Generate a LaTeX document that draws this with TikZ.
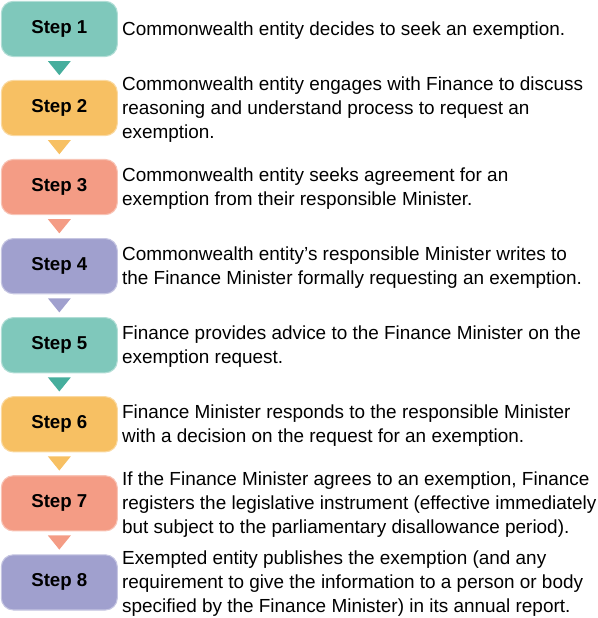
\documentclass[tikz,border=0pt]{standalone}
\usepackage{fontspec}
\setmainfont{Liberation Sans}
\usepackage{tikz}
\usetikzlibrary{positioning,calc}
\definecolor{Teal}{HTML}{7FC8BB}
\definecolor{TealDark}{HTML}{46AE9D}
\definecolor{Amber}{HTML}{F7C063}
\definecolor{Salmon}{HTML}{F49C85}
\definecolor{Lilac}{HTML}{A0A0CE}
\begin{document}
\begin{tikzpicture}[
    stepbox/.style={rounded corners=9pt,minimum width=87pt,minimum height=41.4pt,inner sep=0pt,line width=0.8pt,font=\fontsize{14}{16}\selectfont\bfseries},
    txt/.style={anchor=west,align=left,inner sep=0pt,yshift=-1pt,font=\fontsize{14.2}{18}\selectfont}]
    \useasboundingbox (0,0) rectangle (447.75pt,-463.5pt);
    \node[stepbox,fill=Teal,draw=Teal!60!white,anchor=north west] (s1) at (0.6pt,-0.6pt) {Step 1};
    \node[stepbox,fill=Amber,draw=Amber!60!white,below=17.1pt of s1] (s2) {Step 2};
    \node[stepbox,fill=Salmon,draw=Salmon!60!white,below=17.1pt of s2] (s3) {Step 3};
    \node[stepbox,fill=Lilac,draw=Lilac!60!white,below=17.1pt of s3] (s4) {Step 4};
    \node[stepbox,fill=Teal,draw=Teal!60!white,below=17.1pt of s4] (s5) {Step 5};
    \node[stepbox,fill=Amber,draw=Amber!60!white,below=17.1pt of s5] (s6) {Step 6};
    \node[stepbox,fill=Salmon,draw=Salmon!60!white,below=17.1pt of s6] (s7) {Step 7};
    \node[stepbox,fill=Lilac,draw=Lilac!60!white,below=17.1pt of s7] (s8) {Step 8};
    % descriptions
    \node[txt,right=3pt of s1] (t1) {Commonwealth entity decides to seek an exemption.};
    \node[txt,right=3pt of s2] (t2) {Commonwealth entity engages with Finance to discuss\\reasoning and understand process to request an\\exemption.};
    \node[txt,right=3pt of s3] (t3) {Commonwealth entity seeks agreement for an\\exemption from their responsible Minister.};
    \node[txt,right=3pt of s4] (t4) {Commonwealth entity's responsible Minister writes to\\the Finance Minister formally requesting an exemption.};
    \node[txt,right=3pt of s5] (t5) {Finance provides advice to the Finance Minister on the\\exemption request.};
    \node[txt,right=3pt of s6] (t6) {Finance Minister responds to the responsible Minister\\with a decision on the request for an exemption.};
    \node[txt,right=3pt of s7] (t7) {If the Finance Minister agrees to an exemption, Finance\\registers the legislative instrument (effective immediately\\but subject to the parliamentary disallowance period).};
    \node[txt,right=3pt of s8] (t8) {Exempted entity publishes the exemption (and any\\requirement to give the information to a person or body\\specified by the Finance Minister) in its annual report.};
    % arrowheads between steps
    \fill[TealDark] ($(s1.south)+(-8.6pt,-3pt)$) -- ++(17.2pt,0) -- ($(s2.north)+(0,3.5pt)$) -- cycle;
    \fill[Amber] ($(s2.south)+(-8.6pt,-3pt)$) -- ++(17.2pt,0) -- ($(s3.north)+(0,3.5pt)$) -- cycle;
    \fill[Salmon] ($(s3.south)+(-8.6pt,-3pt)$) -- ++(17.2pt,0) -- ($(s4.north)+(0,3.5pt)$) -- cycle;
    \fill[Lilac] ($(s4.south)+(-8.6pt,-3pt)$) -- ++(17.2pt,0) -- ($(s5.north)+(0,3.5pt)$) -- cycle;
    \fill[TealDark] ($(s5.south)+(-8.6pt,-3pt)$) -- ++(17.2pt,0) -- ($(s6.north)+(0,3.5pt)$) -- cycle;
    \fill[Amber] ($(s6.south)+(-8.6pt,-3pt)$) -- ++(17.2pt,0) -- ($(s7.north)+(0,3.5pt)$) -- cycle;
    \fill[Salmon] ($(s7.south)+(-8.6pt,-3pt)$) -- ++(17.2pt,0) -- ($(s8.north)+(0,3.5pt)$) -- cycle;
\end{tikzpicture}
\end{document}
